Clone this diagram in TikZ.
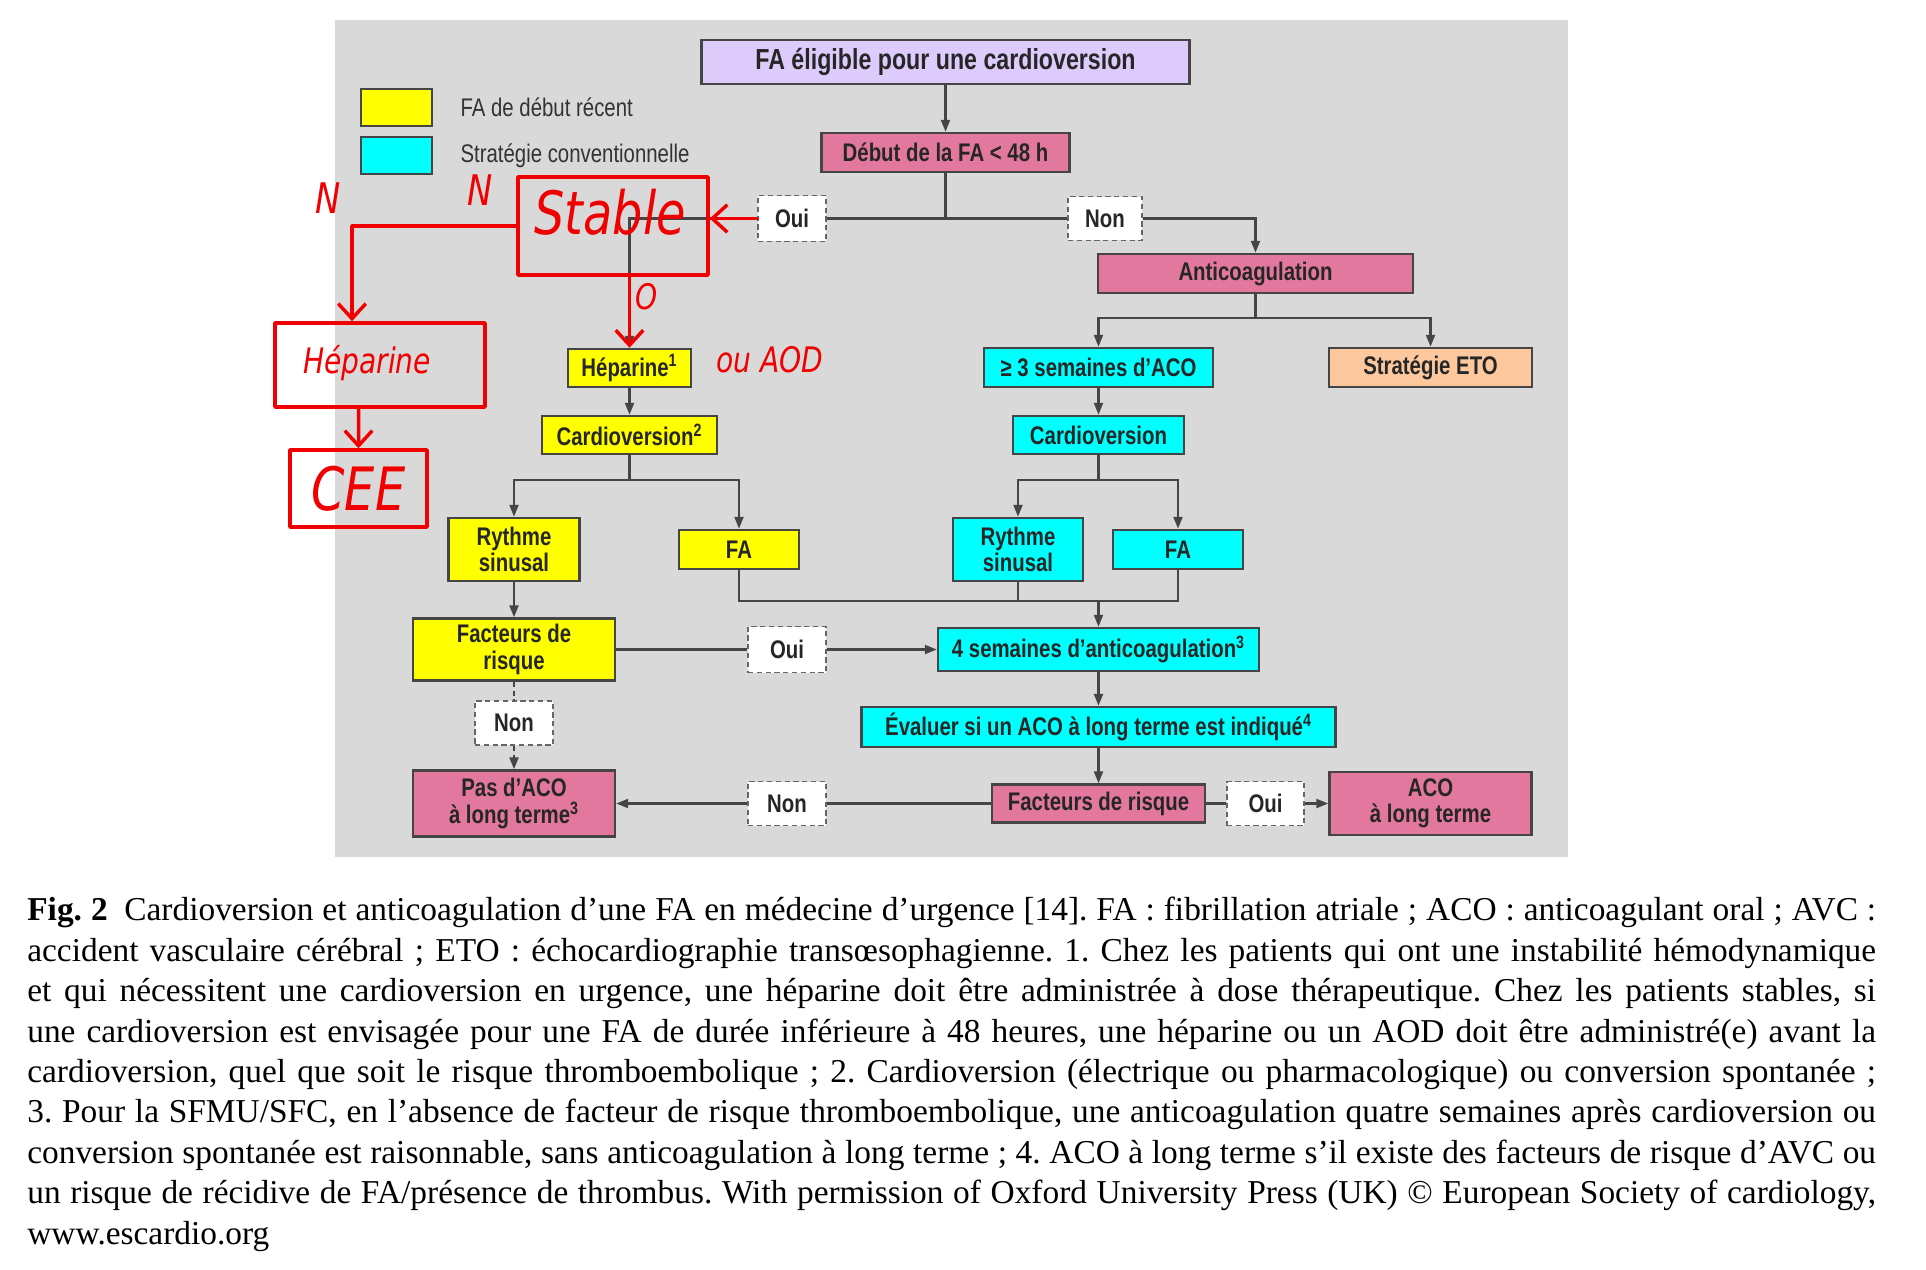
\documentclass[tikz,border=0pt]{standalone}
\usepackage{fontspec}
\setmainfont{Liberation Serif}
\newfontfamily\boxfont[FakeStretch=0.8]{Liberation Sans}
\newfontfamily\handfont[FakeStretch=0.8]{DejaVu Sans}
\usetikzlibrary{arrows.meta, positioning}

\definecolor{panelgray}{HTML}{D9D9D9}
\definecolor{lilacbox}{HTML}{DDCBFB}
\definecolor{pinkbox}{HTML}{E3789F}
\definecolor{yellowbox}{HTML}{FFFF00}
\definecolor{cyanbox}{HTML}{00FFFF}
\definecolor{peachbox}{HTML}{FDC89E}
\definecolor{edgegray}{HTML}{454545}
\definecolor{inkred}{HTML}{F00000}

\begin{document}
\begin{tikzpicture}[x=0.02cm, y=-0.02cm,
		box/.style={draw=edgegray, line width=0.05cm, align=center, inner sep=0pt, text=black!85, font=\boxfont\bfseries\fontsize{14.5}{15}\selectfont},
		start/.style={box, fill=lilacbox, font=\boxfont\bfseries\fontsize{16.5}{17}\selectfont},
		crit/.style={box, fill=pinkbox},
		recent/.style={box, fill=yellowbox},
		conv/.style={box, fill=cyanbox},
		eto/.style={box, fill=peachbox},
		choice/.style={box, fill=white, draw=black!60, densely dashed, line width=0.035cm},
		legend/.style={inner sep=0pt, text=black!80, font=\boxfont\fontsize{14.5}{15}\selectfont},
		link/.style={draw=edgegray, line width=0.045cm},
		arrow/.style={link, -{Triangle[length=0.24cm, width=0.18cm]}},
		ink/.style={draw=inkred, line width=0.07cm, line cap=round, line join=round},
		inkarrow/.style={ink, -{Straight Barb[length=0.3cm, width=0.55cm]}},
		inkbox/.style={ink, inner sep=0pt, text=inkred, font=\handfont\itshape\fontsize{20}{22}\selectfont},
		inktext/.style={text=inkred, inner sep=0pt, font=\handfont\itshape\fontsize{20}{22}\selectfont},
		caption/.style={inner sep=0pt, text width=36.98cm, align=justify, font=\fontsize{19}{23}\selectfont}
	]
	\useasboundingbox (0,0) rectangle (1926,1270);
	\fill[white] (0,0) rectangle (1926,1270);
	\fill[panelgray] (335,20) rectangle (1568,857);

	% legend
	\node[recent, minimum width=1.42cm, minimum height=0.74cm] (keyrecent) at (396.5,107.5) {};
	\node[conv, minimum width=1.42cm, minimum height=0.74cm] (keyconv) at (396.5,155.5) {};
	\node[legend, right=0.54cm of keyrecent] (keyrecenttxt) {FA de début récent};
	\node[legend, right=0.54cm of keyconv] (keyconvtxt) {Stratégie conventionnelle};

	% boxes
	\node[start, minimum width=9.76cm, minimum height=0.88cm] (elig) at (945.5,62) {FA éligible pour une cardioversion};
	\node[crit, minimum width=4.96cm, minimum height=0.78cm] (onset) at (945.5,152.5) {Début de la FA < 48 h};
	\node[choice, minimum width=1.36cm, minimum height=0.92cm] (yes1) at (792,218.5) {Oui};
	\node[choice, minimum width=1.48cm, minimum height=0.88cm] (no1) at (1105,218.5) {Non};
	\node[crit, minimum width=6.30cm, minimum height=0.78cm] (anticoag) at (1255.5,273.5) {Anticoagulation};
	\node[recent, minimum width=2.46cm, minimum height=0.76cm] (hep) at (629.5,368) {Héparine\textsuperscript{1}};
	\node[recent, minimum width=3.50cm, minimum height=0.76cm] (cv1) at (629.5,435) {Cardioversion\textsuperscript{2}};
	\node[conv, minimum width=4.58cm, minimum height=0.78cm] (aco3w) at (1098.5,367.5) {≥ 3 semaines d’ACO};
	\node[eto, minimum width=4.06cm, minimum height=0.78cm] (tee) at (1430.5,367.5) {Stratégie ETO};
	\node[conv, minimum width=3.42cm, minimum height=0.76cm] (cv2) at (1098.5,435) {Cardioversion};
	\node[recent, minimum width=2.62cm, minimum height=1.26cm] (sr1) at (514,549.5) {Rythme\\sinusal};
	\node[recent, minimum width=2.40cm, minimum height=0.78cm] (af1) at (739,549.5) {FA};
	\node[conv, minimum width=2.60cm, minimum height=1.26cm] (sr2) at (1018,549.5) {Rythme\\sinusal};
	\node[conv, minimum width=2.60cm, minimum height=0.78cm] (af2) at (1178,549.5) {FA};
	\node[recent, minimum width=4.04cm, minimum height=1.24cm] (risk1) at (514,649.5) {Facteurs de\\risque};
	\node[choice, minimum width=1.56cm, minimum height=0.92cm] (yes2) at (787,649.5) {Oui};
	\node[conv, minimum width=6.42cm, minimum height=0.86cm] (aco4w) at (1098.5,649.5) {4 semaines d’anticoagulation\textsuperscript{3}};
	\node[choice, minimum width=1.56cm, minimum height=0.88cm] (no2) at (514,723) {Non};
	\node[conv, minimum width=9.48cm, minimum height=0.80cm] (assess) at (1098.5,727) {Évaluer si un ACO à long terme est indiqué\textsuperscript{4}};
	\node[crit, minimum width=4.04cm, minimum height=1.32cm] (noaco) at (514,803.5) {Pas d’ACO\\à long terme\textsuperscript{3}};
	\node[choice, minimum width=1.56cm, minimum height=0.88cm] (no3) at (787,803.5) {Non};
	\node[crit, minimum width=4.26cm, minimum height=0.76cm] (risk2) at (1098.5,803.5) {Facteurs de risque};
	\node[choice, minimum width=1.54cm, minimum height=0.88cm] (yes3) at (1265.5,803.5) {Oui};
	\node[crit, minimum width=4.04cm, minimum height=1.26cm] (longaco) at (1430.5,803.5) {ACO\\à long terme};
	\coordinate (join) at (1098.5,601);

	% connectors
	\draw[arrow] (elig) -- (onset);
	\draw[link] (onset) -- (onset |- yes1);
	\draw[link] (yes1) -- (no1);
	\draw[arrow] (yes1) -| (hep);
	\draw[arrow] (no1) -| (anticoag);
	\draw[arrow] (anticoag.south) -- ++(0,24) -| (aco3w.north);
	\draw[arrow] (anticoag.south) -- ++(0,24) -| (tee.north);
	\draw[arrow] (aco3w) -- (cv2);
	\draw[arrow] (hep) -- (cv1);
	\draw[arrow] (cv1.south) -- ++(0,25) -| (sr1.north);
	\draw[arrow] (cv1.south) -- ++(0,25) -| (af1.north);
	\draw[arrow] (cv2.south) -- ++(0,25) -| (sr2.north);
	\draw[arrow] (cv2.south) -- ++(0,25) -| (af2.north);
	\draw[link] (af1.south) |- (join -| af2.south) -- (af2.south);
	\draw[link] (sr2.south) -- (sr2.south |- join);
	\draw[arrow] (join) -- (aco4w);
	\draw[arrow] (sr1) -- (risk1);
	\draw[link] (risk1) -- (yes2);
	\draw[arrow] (yes2) -- (aco4w);
	\draw[link, densely dashed] (risk1) -- (no2);
	\draw[arrow, densely dashed] (no2) -- (noaco);
	\draw[arrow] (aco4w) -- (assess);
	\draw[arrow] (assess) -- (risk2);
	\draw[link] (risk2) -- (no3);
	\draw[arrow] (no3) -- (noaco);
	\draw[link] (risk2) -- (yes3);
	\draw[arrow] (yes3) -- (longaco);

	% red hand notes
	\node[inkbox, minimum width=3.8cm, minimum height=1.96cm] (stable) at (613,226) {};
	\node[inktext, font=\handfont\itshape\fontsize{34}{36}\selectfont] (stabletxt) at (610,212) {Stable};
	\node[inktext, font=\handfont\itshape\fontsize{24}{26}\selectfont] (nright) at (480,190) {N};
	\node[inktext, font=\handfont\itshape\fontsize{24}{26}\selectfont] (nleft) at (328,198) {N};
	\node[inkbox, minimum width=4.2cm, minimum height=1.68cm] (hepnote) at (380,365) {};
	\node[inktext] (heptxt) at (367,363) {Héparine};
	\node[inkbox, minimum width=2.74cm, minimum height=1.54cm, font=\handfont\itshape\fontsize{34}{36}\selectfont] (cee) at (358.5,488.5) {CEE};
	\node[inktext] (yesmark) at (647,297) {O};
	\node[inktext] (aod) at (770,360) {ou AOD};
	\draw[inkarrow] (yes1.west) -- (yes1.west -| stable.east);
	\draw[inkarrow] (stable.west) -| ([xshift=-0.56cm]hepnote.north);
	\draw[inkarrow] (stable.south -| hep.north) -- (hep.north);
	\draw[inkarrow] ([xshift=-0.43cm]hepnote.south) -- (cee.north);

	% caption
	\node[caption, anchor=north west] (caption) at (27,897) {\frenchspacing\textbf{Fig. 2}\enspace Cardioversion et anticoagulation d’une FA en médecine d’urgence [14]. FA : fibrillation atriale ; ACO : anticoagulant oral ; AVC :\linebreak
		accident vasculaire cérébral ; ETO : échocardiographie transœsophagienne. 1. Chez les patients qui ont une instabilité hémodynamique\linebreak
		et qui nécessitent une cardioversion en urgence, une héparine doit être administrée à dose thérapeutique. Chez les patients stables, si\linebreak
		une cardioversion est envisagée pour une FA de durée inférieure à 48 heures, une héparine ou un AOD doit être administré(e) avant la\linebreak
		cardioversion, quel que soit le risque thromboembolique ; 2. Cardioversion (électrique ou pharmacologique) ou conversion spontanée ;\linebreak
		3. Pour la SFMU/SFC, en l’absence de facteur de risque thromboembolique, une anticoagulation quatre semaines après cardioversion ou\linebreak
		conversion spontanée est raisonnable, sans anticoagulation à long terme ; 4. ACO à long terme s’il existe des facteurs de risque d’AVC ou\linebreak
		un risque de récidive de FA/présence de thrombus. With permission of Oxford University Press (UK) © European Society of cardiology,\linebreak
		www.escardio.org};
\end{tikzpicture}
\end{document}
